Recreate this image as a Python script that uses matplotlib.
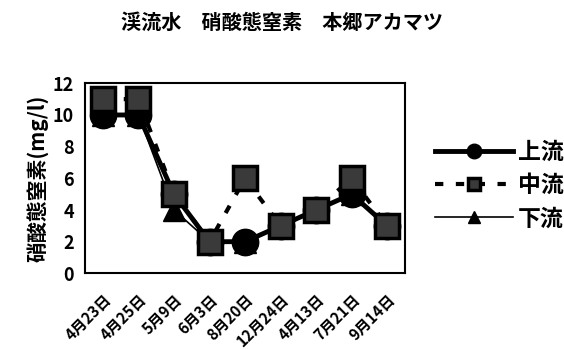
import matplotlib
matplotlib.use("Agg")
import matplotlib.pyplot as plt
from matplotlib.transforms import ScaledTranslation

plt.rcParams['font.family'] = ['Noto Sans CJK JP', 'DejaVu Sans']

dates = ["4月23日", "4月25日", "5月9日", "6月3日", "8月20日", "12月24日", "4月13日", "7月21日", "9月14日"]
upstream = [10, 10, 5, 2, 2, 3, 4, 5, 3]
midstream = [11, 11, 5, 2, 6, 3, 4, 6, 3]
downstream = [10, 10, 4, 2, 2, 3, 4, 5, 3]
yticks = [0, 2, 4, 6, 8, 10, 12]

fig = plt.figure(figsize=(5.64, 3.5), dpi=100)
ax = fig.add_axes([0.151, 0.219, 0.567, 0.543])
x = list(range(len(dates)))

ax.plot(x, downstream, color='black', lw=1.2, marker='^', markersize=16,
        markerfacecolor='black', markeredgecolor='black', zorder=2, label='下流')
ax.plot(x, upstream, color='black', lw=3.5, marker='o', markersize=19,
        markerfacecolor='black', markeredgecolor='black', zorder=3, label='上流')
ax.plot(x, midstream, color='black', lw=3, linestyle=(0, (2, 3)), marker='s', markersize=17,
        markerfacecolor='#3a3a3a', markeredgecolor='black', markeredgewidth=2.5, zorder=4, label='中流')

ax.set_xlim(-0.5, len(dates) - 0.5)
ax.set_ylim(0, 12)
ax.set_yticks(yticks)
ax.set_yticklabels([str(v) for v in yticks], fontsize=13, fontweight='bold')
ax.set_xticks(x)
ax.set_xticklabels(dates, rotation=45, ha='right', rotation_mode='anchor', fontsize=11, fontweight='bold')
offset = ScaledTranslation(-6 / 72, 0, fig.dpi_scale_trans)
for lab in ax.get_xticklabels():
    lab.set_transform(lab.get_transform() + offset)
ax.tick_params(axis='x', length=0, pad=13)
ax.tick_params(axis='y', length=0, pad=8)
for s in ax.spines.values():
    s.set_linewidth(1.5)
ax.set_ylabel('硝酸態窒素(mg/l)', fontsize=15, fontweight='bold', labelpad=2)

fig.suptitle('渓流水　硝酸態窒素　本郷アカマツ', x=0.5, y=0.965, fontsize=14.5, fontweight='bold')

handles, labels = ax.get_legend_handles_labels()
order = [1, 2, 0]
leg = fig.legend([handles[i] for i in order], [labels[i] for i in order],
                 loc='center left', bbox_to_anchor=(0.735, 0.47), frameon=False,
                 prop={'size': 16.5, 'weight': 'bold'}, markerscale=0.55,
                 handlelength=3.4, labelspacing=0.45, handletextpad=0.2)

fig.savefig('out.png', dpi=100)
